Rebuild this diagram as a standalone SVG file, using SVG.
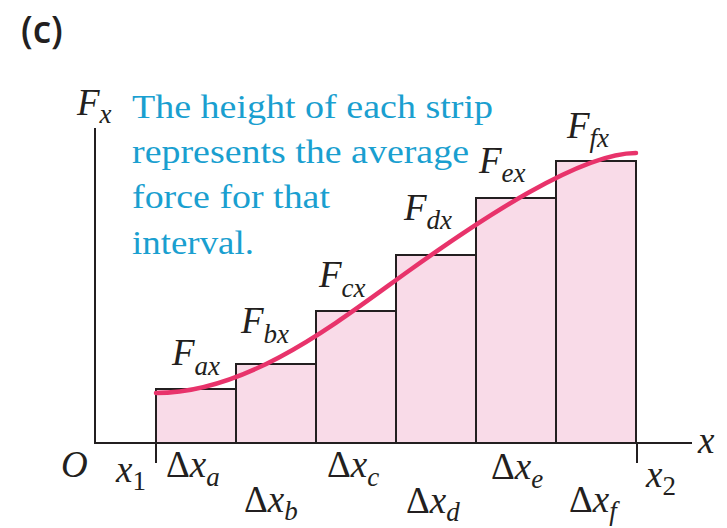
<svg xmlns="http://www.w3.org/2000/svg" width="727" height="528" viewBox="0 0 727 528">
<style>
.bar{fill:#f9dbe8;stroke:#231f20;stroke-width:2}
.ax{stroke:#231f20;stroke-width:2;fill:none}
.curve{fill:none;stroke:#e8336b;stroke-width:4.5;stroke-linecap:round}
.note{font-family:"Liberation Serif",serif;font-size:34px;fill:#1a9fd0}
.m{font-family:"Liberation Serif","Times New Roman",serif;font-size:37px;font-style:italic;fill:#231f20}
.s{font-size:27px}
.up{font-style:normal}
.lab{font-family:"Open Sans",sans-serif;font-size:37px;font-weight:600;fill:#231f20}
</style>
<rect width="727" height="528" fill="#ffffff"/>
<text class="lab" x="21" y="43">(c)</text>
<g id="bars">
<rect class="bar" x="156" y="389" width="80" height="54"/>
<rect class="bar" x="236" y="364" width="80" height="79"/>
<rect class="bar" x="316" y="311" width="80" height="132"/>
<rect class="bar" x="396" y="255" width="80" height="188"/>
<rect class="bar" x="476" y="198" width="80" height="245"/>
<rect class="bar" x="556" y="161" width="80" height="282"/>
</g>
<g id="axes">
<path class="ax" d="M95,128 V443 H692"/>
<path class="ax" d="M156,443 V463 M637,443 V463"/>
</g>
<path id="curve" class="curve" d="M156,393 C250,393 340,320 410,270 S580,153 636,153"/>
<g id="note">
<text class="note" x="132" y="118" textLength="361" lengthAdjust="spacingAndGlyphs">The height of each strip</text>
<text class="note" x="132" y="163" textLength="337" lengthAdjust="spacingAndGlyphs">represents the average</text>
<text class="note" x="132" y="208" textLength="198" lengthAdjust="spacingAndGlyphs">force for that</text>
<text class="note" x="132" y="254" textLength="122" lengthAdjust="spacingAndGlyphs">interval.</text>
</g>
<g id="labels">
<text class="m" x="77" y="115">F<tspan class="s" dy="8">x</tspan></text>
<text class="m" x="172" y="365">F<tspan class="s" dy="10">ax</tspan></text>
<text class="m" x="241" y="333">F<tspan class="s" dy="10">bx</tspan></text>
<text class="m" x="319" y="287">F<tspan class="s" dy="10">cx</tspan></text>
<text class="m" x="404" y="220">F<tspan class="s" dy="9">dx</tspan></text>
<text class="m" x="479" y="173">F<tspan class="s" dy="9">ex</tspan></text>
<text class="m" x="567" y="138">F<tspan class="s" dy="9">fx</tspan></text>
<text class="m" x="61" y="477">O</text>
<text class="m" x="116" y="482">x<tspan class="s up" dy="8">1</tspan></text>
<text class="m" x="646" y="487">x<tspan class="s up" dy="8">2</tspan></text>
<text class="m" x="698" y="453">x</text>
<text class="m" x="166" y="477"><tspan class="up">Δ</tspan>x<tspan class="s" dy="9">a</tspan></text>
<text class="m" x="244" y="512"><tspan class="up">Δ</tspan>x<tspan class="s" dy="8">b</tspan></text>
<text class="m" x="327" y="477"><tspan class="up">Δ</tspan>x<tspan class="s" dy="9">c</tspan></text>
<text class="m" x="406" y="513"><tspan class="up">Δ</tspan>x<tspan class="s" dy="8">d</tspan></text>
<text class="m" x="491" y="479"><tspan class="up">Δ</tspan>x<tspan class="s" dy="9">e</tspan></text>
<text class="m" x="569" y="512"><tspan class="up">Δ</tspan>x<tspan class="s" dy="8">f</tspan></text>
</g>
</svg>
